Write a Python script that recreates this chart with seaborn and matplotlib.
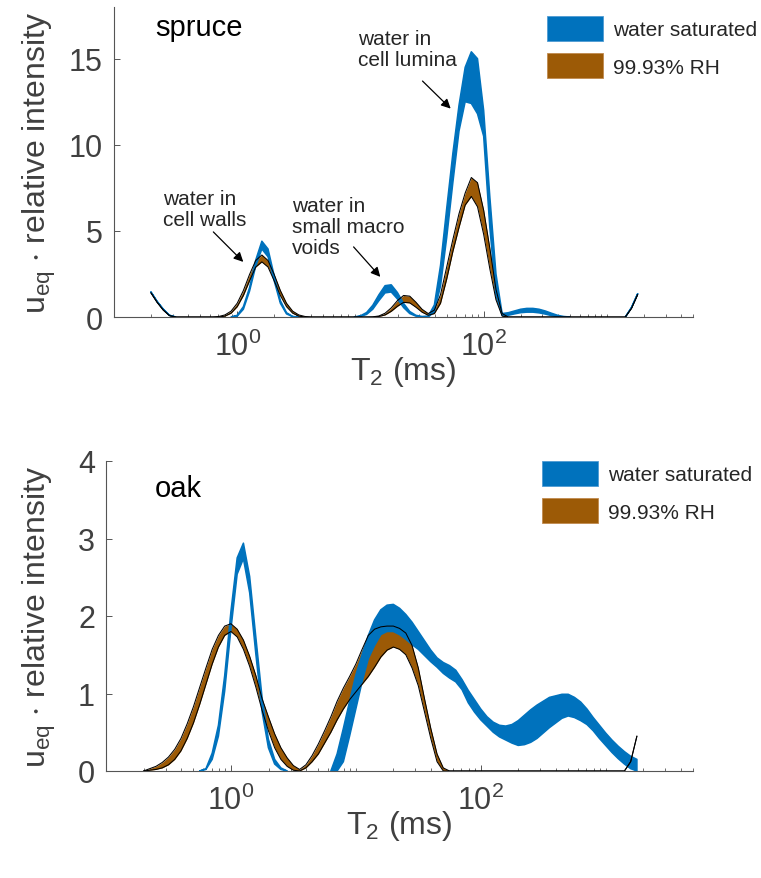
import numpy as np
import matplotlib
matplotlib.use("Agg")
import matplotlib.pyplot as plt
from matplotlib.patches import Patch
from matplotlib.ticker import FixedLocator, FixedFormatter, LogLocator, NullFormatter
import seaborn as sns

sns.set_style("ticks")
plt.rcParams["font.family"] = ["Liberation Sans", "DejaVu Sans"]
plt.rcParams["mathtext.fontset"] = "custom"
plt.rcParams["mathtext.rm"] = "Liberation Sans"
plt.rcParams["mathtext.it"] = "Liberation Sans:italic"
plt.rcParams["mathtext.bf"] = "Liberation Sans:bold"
plt.rcParams["mathtext.default"] = "regular"

# T2 sampling grid (ms): steps of 0.05 decade from 10^-0.7 to 10^3.25
log_t2 = np.round(np.arange(-0.70, 3.2501, 0.05), 2)
t2_ms = 10.0 ** log_t2

# ---- spruce: band limits (u_eq * relative intensity) ----
spruce_sat_hi = [
    1.45, 0.9, 0.45, 0.1, 0, 0, 0, 0, 0, 0,
    0, 0, 0, 0, 0.1, 0.6, 1.7, 3.3, 4.4, 3.95,
    2.4, 0.95, 0.25, 0.03, 0, 0, 0, 0, 0, 0,
    0, 0, 0, 0, 0.07, 0.26, 0.68, 1.29, 1.82, 1.87,
    1.42, 0.79, 0.32, 0.1, 0.03, 0.05, 0.7, 3.0, 6.3, 9.5,
    12.3, 14.5, 15.4, 15.0, 12.0, 7.0, 2.5, 0.2, 0.25, 0.35,
    0.45, 0.5, 0.5, 0.45, 0.35, 0.22, 0.1, 0.03, 0, 0,
    0, 0, 0, 0, 0, 0, 0, 0, 0.55, 1.35,
]
spruce_sat_lo = [
    1.45, 0.9, 0.45, 0.1, 0, 0, 0, 0, 0, 0,
    0, 0, 0, 0, 0.05, 0.45, 1.5, 2.95, 3.95, 3.5,
    2.1, 0.8, 0.18, 0.02, 0, 0, 0, 0, 0, 0,
    0, 0, 0, 0, 0.03, 0.15, 0.45, 0.95, 1.4, 1.45,
    1.05, 0.55, 0.2, 0.05, 0, 0, 0.3, 1.8, 4.6, 7.8,
    10.8, 12.5, 12.4, 11.8, 10.5, 5.2, 1.3, 0.1, 0.1, 0.18,
    0.25, 0.28, 0.28, 0.24, 0.17, 0.08, 0.02, 0, 0, 0,
    0, 0, 0, 0, 0, 0, 0, 0, 0.55, 1.35,
]
spruce_rh_hi = [
    1.4, 0.85, 0.4, 0.08, 0, 0, 0, 0, 0, 0,
    0, 0.03, 0.12, 0.34, 0.8, 1.54, 2.47, 3.28, 3.6, 3.28,
    2.47, 1.54, 0.8, 0.34, 0.12, 0.03, 0, 0, 0, 0,
    0, 0, 0, 0, 0, 0, 0.01, 0.06, 0.22, 0.53,
    0.95, 1.25, 1.21, 0.86, 0.45, 0.2, 0.4, 1.3, 2.9, 4.5,
    6.0, 7.2, 8.1, 7.8, 6.2, 4.0, 1.6, 0.2, 0, 0,
    0, 0, 0, 0, 0, 0, 0, 0, 0, 0,
    0, 0, 0, 0, 0, 0, 0, 0, 0.5, 1.3,
]
spruce_rh_lo = [
    1.4, 0.85, 0.4, 0.08, 0, 0, 0, 0, 0, 0,
    0, 0, 0.05, 0.22, 0.6, 1.25, 2.1, 2.9, 3.2, 2.9,
    2.1, 1.25, 0.6, 0.22, 0.05, 0, 0, 0, 0, 0,
    0, 0, 0, 0, 0, 0, 0, 0.03, 0.12, 0.33,
    0.62, 0.85, 0.82, 0.57, 0.28, 0.1, 0.2, 0.8, 2.2, 3.8,
    5.2, 6.5, 7.0, 6.4, 4.8, 2.8, 1.0, 0.05, 0, 0,
    0, 0, 0, 0, 0, 0, 0, 0, 0, 0,
    0, 0, 0, 0, 0, 0, 0, 0, 0.5, 1.3,
]

# ---- oak: band limits ----
oak_sat_hi = [
    0, 0, 0, 0, 0, 0, 0, 0, 0, 0,
    0.03, 0.23, 0.59, 1.23, 2.06, 2.75, 2.94, 2.51, 1.72, 0.94,
    0.41, 0.15, 0.04, 0, 0, 0, 0, 0, 0, 0,
    0, 0.22, 0.55, 0.9, 1.24, 1.5, 1.75, 1.95, 2.08, 2.14,
    2.15, 2.10, 2.02, 1.92, 1.80, 1.68, 1.56, 1.46, 1.40, 1.36,
    1.30, 1.18, 1.04, 0.92, 0.80, 0.70, 0.63, 0.59, 0.58, 0.60,
    0.65, 0.72, 0.79, 0.85, 0.90, 0.95, 0.97, 0.99, 0.99, 0.95,
    0.89, 0.80, 0.69, 0.59, 0.49, 0.40, 0.32, 0.25, 0.19, 0.15,
]
oak_sat_lo = [
    0, 0, 0, 0, 0, 0, 0, 0, 0, 0,
    0.02, 0.15, 0.45, 1.03, 1.83, 2.54, 2.74, 2.30, 1.50, 0.76,
    0.30, 0.09, 0.02, 0, 0, 0, 0, 0, 0, 0,
    0, 0, 0.12, 0.45, 0.8, 1.15, 1.45, 1.62, 1.76, 1.80,
    1.80, 1.76, 1.70, 1.63, 1.57, 1.49, 1.41, 1.34, 1.26, 1.20,
    1.15, 1.05, 0.88, 0.76, 0.66, 0.58, 0.50, 0.44, 0.40, 0.36,
    0.33, 0.34, 0.37, 0.42, 0.49, 0.56, 0.62, 0.68, 0.71, 0.69,
    0.65, 0.60, 0.52, 0.42, 0.33, 0.24, 0.16, 0.09, 0.03, 0,
]
oak_rh_hi = [
    0, 0.03, 0.06, 0.11, 0.18, 0.28, 0.42, 0.61, 0.83, 1.08,
    1.33, 1.57, 1.75, 1.87, 1.90, 1.83, 1.69, 1.48, 1.23, 0.93,
    0.70, 0.48, 0.30, 0.17, 0.07, 0.02, 0.08, 0.2, 0.35, 0.52,
    0.70, 0.90, 1.07, 1.22, 1.38, 1.57, 1.75, 1.83, 1.86, 1.87,
    1.87, 1.84, 1.78, 1.62, 1.33, 0.93, 0.55, 0.22, 0.04, 0,
    0, 0, 0, 0, 0, 0, 0, 0, 0, 0,
    0, 0, 0, 0, 0, 0, 0, 0, 0, 0,
    0, 0, 0, 0, 0, 0, 0, 0, 0.12, 0.45,
]
oak_rh_lo = [
    0, 0.01, 0.02, 0.04, 0.08, 0.15, 0.26, 0.42, 0.62, 0.86,
    1.12, 1.38, 1.60, 1.75, 1.80, 1.73, 1.57, 1.35, 1.08, 0.78,
    0.52, 0.30, 0.15, 0.06, 0.01, 0, 0.04, 0.12, 0.22, 0.36,
    0.50, 0.66, 0.80, 0.92, 1.02, 1.12, 1.22, 1.34, 1.47, 1.56,
    1.60, 1.57, 1.50, 1.33, 1.10, 0.76, 0.42, 0.12, 0, 0,
    0, 0, 0, 0, 0, 0, 0, 0, 0, 0,
    0, 0, 0, 0, 0, 0, 0, 0, 0, 0,
    0, 0, 0, 0, 0, 0, 0, 0, 0.12, 0.45,
]

series_labels = ["water saturated", "99.93% RH"]
BLUE = "#0072BD"
BROWN = "#9C5A06"
AXIS_GRAY = "#555555"
TEXT_GRAY = "#404040"

W, H = 761, 879
fig = plt.figure(figsize=(W / 100, H / 100), dpi=100)
ax_top = fig.add_axes([114 / W, 1 - 318 / H, 579 / W, 310 / H])
ax_bot = fig.add_axes([106 / W, 1 - 772 / H, 587 / W, 310 / H])


def nonzero_span(hi):
    """Samples belonging to a non-zero stretch of a band (plus the zero
    sample on either side, so the flanks reach the baseline)."""
    hi = np.asarray(hi, dtype=float)
    on = hi > 0
    grown = on.copy()
    grown[1:] |= on[:-1]
    grown[:-1] |= on[1:]
    return grown


def draw_panel(ax, sat_lo, sat_hi, rh_lo, rh_hi, ymax, yticks, name, name_xy,
               label_x, legend_xy):
    # 99.93% RH band with black outline, water-saturated band on top of it
    ax.fill_between(t2_ms, rh_lo, rh_hi, color=BROWN, lw=0, zorder=2)
    ax.fill_between(t2_ms, sat_lo, sat_hi, where=nonzero_span(sat_hi),
                    facecolor=BLUE, edgecolor=BLUE, lw=1.1, zorder=3)
    for edge in (rh_lo, rh_hi):
        sns.lineplot(x=t2_ms, y=edge, color="black", lw=0.75, ax=ax,
                     zorder=4, legend=False)

    ax.set_xscale("log")
    ax.set_xlim(0.1, 5000)
    ax.set_ylim(0, ymax)
    ax.xaxis.set_major_locator(FixedLocator([1, 100]))
    ax.xaxis.set_major_formatter(FixedFormatter([r"$\mathregular{10^{0}}$",
                                                 r"$\mathregular{10^{2}}$"]))
    ax.xaxis.set_minor_locator(LogLocator(base=10, subs=np.arange(1, 10), numticks=30))
    ax.xaxis.set_minor_formatter(NullFormatter())
    ax.set_yticks(yticks)
    ax.set_yticklabels([str(t) for t in yticks])

    sns.despine(ax=ax)
    for side in ("left", "bottom"):
        ax.spines[side].set_color(AXIS_GRAY)
        ax.spines[side].set_linewidth(0.8)
    ax.tick_params(axis="both", which="major", direction="in", length=4.3,
                   width=0.7, color=AXIS_GRAY, labelcolor=TEXT_GRAY,
                   labelsize=22)
    ax.tick_params(axis="x", which="major", pad=10)
    ax.tick_params(axis="y", which="major", pad=8)
    ax.tick_params(axis="x", which="minor", direction="in", length=2.2,
                   width=0.6, color=AXIS_GRAY)

    ax.set_xlabel(r"T$_2$ (ms)", fontsize=23, color=TEXT_GRAY, va="top")
    ax.xaxis.set_label_coords(0.5, -0.12)
    ax.set_ylabel(r"u$_{eq}$ $\cdot$ relative intensity", fontsize=23,
                  color=TEXT_GRAY)
    ax.yaxis.set_label_coords(label_x, 0.5)

    ax.text(name_xy[0], name_xy[1], name, transform=ax.transAxes,
            fontsize=21, color="black", va="baseline", ha="left")

    handles = [Patch(facecolor=BLUE, edgecolor="#4f9bd3", lw=0.6, label=series_labels[0]),
               Patch(facecolor=BROWN, edgecolor="#c08a4e", lw=0.6, label=series_labels[1])]
    ax.legend(handles=handles, loc="upper left",
              bbox_to_anchor=(legend_xy[0] / W, 1 - legend_xy[1] / H),
              bbox_transform=fig.transFigure, frameon=False, fontsize=15,
              handlelength=2.7, handleheight=1.45, handletextpad=0.45,
              labelspacing=0.6, borderpad=0, borderaxespad=0)


draw_panel(ax_top, spruce_sat_lo, spruce_sat_hi, spruce_rh_lo, spruce_rh_hi,
           18, [0, 5, 10, 15], "spruce", (0.071, 0.91), (58 - 114) / 579, (547, 17))
draw_panel(ax_bot, oak_sat_lo, oak_sat_hi, oak_rh_lo, oak_rh_hi,
           4, [0, 1, 2, 3, 4], "oak", (0.0835, 0.887), (58 - 106) / 587, (542, 462))

# peak annotations on the spruce panel
arrow = dict(arrowstyle="-|>", color="black", lw=0.9, mutation_scale=14,
             shrinkA=0, shrinkB=0)
ax_top.text(0.25, 7.44, "water in\ncell walls", fontsize=15, va="top",
            ha="left", linespacing=1.15)
ax_top.annotate("", xy=(1.12, 3.2), xytext=(0.64, 4.94), arrowprops=arrow)
ax_top.text(2.8, 7.03, "water in\nsmall macro\nvoids", fontsize=15, va="top",
            ha="left", linespacing=1.15)
ax_top.annotate("", xy=(14.5, 2.33), xytext=(8.8, 4.07), arrowprops=arrow)
ax_top.text(9.5, 16.74, "water in\ncell lumina", fontsize=15, va="top",
            ha="left", linespacing=1.15)
ax_top.annotate("", xy=(54, 12.1), xytext=(31.9, 13.7), arrowprops=arrow)

fig.savefig("out.png", dpi=100)
